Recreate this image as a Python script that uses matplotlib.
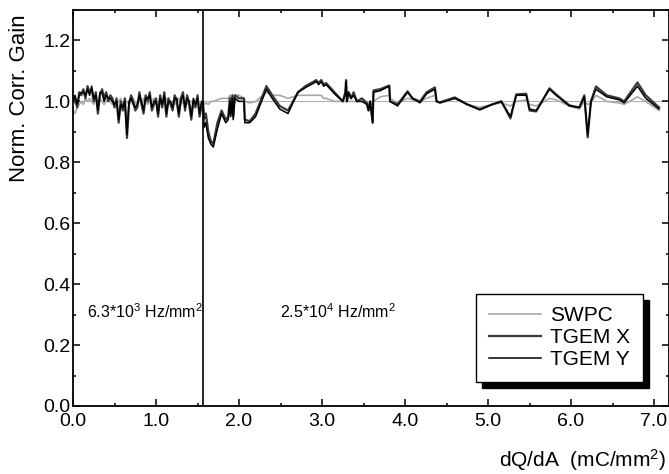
import matplotlib
matplotlib.use("Agg")
import matplotlib.pyplot as plt
from matplotlib.patches import Rectangle

plt.rcParams['font.family'] = ['Liberation Sans', 'DejaVu Sans']
plt.rcParams['mathtext.fontset'] = 'custom'
plt.rcParams['mathtext.rm'] = 'Liberation Sans'
plt.rcParams['mathtext.it'] = 'Liberation Sans'

# ---- data ----
dq = [0.000, 0.025, 0.050, 0.075, 0.100, 0.125, 0.150, 0.175, 0.200, 0.225,
      0.250, 0.275, 0.300, 0.325, 0.350, 0.375, 0.400, 0.425, 0.450, 0.475,
      0.500, 0.525, 0.550, 0.575, 0.600, 0.625, 0.650, 0.675, 0.700, 0.725,
      0.750, 0.775, 0.800, 0.825, 0.850, 0.875, 0.900, 0.925, 0.950, 0.975,
      1.000, 1.025, 1.050, 1.075, 1.100, 1.125, 1.150, 1.175, 1.200, 1.225,
      1.250, 1.275, 1.300, 1.325, 1.350, 1.375, 1.400, 1.425, 1.450, 1.475,
      1.500, 1.525, 1.550,
      1.565, 1.58, 1.60, 1.63, 1.66, 1.69, 1.74, 1.79, 1.84, 1.87,
      1.89, 1.90, 1.92, 1.93, 1.95, 2.00, 2.06, 2.07, 2.13, 2.20,
      2.33, 2.40, 2.49, 2.59, 2.71, 2.80, 2.90, 2.93, 2.96, 2.99,
      3.02, 3.05, 3.15, 3.25, 3.28, 3.29, 3.30, 3.32, 3.35, 3.38,
      3.42, 3.48, 3.54, 3.56, 3.58, 3.61, 3.62, 3.70, 3.81, 3.82,
      3.91, 4.03, 4.09, 4.18, 4.26, 4.36, 4.38, 4.42, 4.60, 4.75,
      4.90, 5.05, 5.16, 5.27, 5.34, 5.46, 5.50, 5.58, 5.74, 5.82,
      5.98, 6.10, 6.16, 6.20, 6.24, 6.30, 6.43, 6.58, 6.64, 6.80,
      6.90, 7.06]

tgem_x = [0.99, 1.01, 0.98, 1.03, 1.02, 1.04, 1.01, 1.05, 1.03, 1.04,
          1.00, 1.03, 0.96, 1.02, 1.04, 1.01, 1.03, 1.00, 1.02, 1.01,
          0.98, 1.01, 0.93, 1.00, 0.97, 1.01, 0.88, 0.99, 1.02, 1.00,
          0.97, 0.98, 1.03, 0.99, 0.96, 1.02, 1.00, 1.03, 0.97, 0.99,
          1.01, 0.95, 1.02, 0.98, 1.03, 0.95, 1.01, 0.99, 0.97, 1.02,
          1.00, 0.95, 1.01, 1.03, 0.97, 1.02, 0.99, 0.94, 1.00, 0.98,
          1.02, 0.95, 0.99,
          1.00, 0.944, 0.96, 0.90, 0.87, 0.86, 0.93, 0.97, 0.94, 0.95,
          1.01, 0.96, 1.02, 0.95, 1.02, 1.01, 1.01, 0.94, 0.935, 0.96,
          1.05, 1.02, 0.985, 0.97, 1.03, 1.05, 1.065, 1.07, 1.06, 1.07,
          1.055, 1.06, 1.03, 1.00, 1.03, 1.07, 1.00, 1.03, 1.01, 1.03,
          1.00, 1.01, 0.995, 0.97, 1.00, 0.93, 1.036, 1.04, 1.052, 1.00,
          0.99, 1.033, 1.01, 1.00, 1.03, 1.046, 1.00, 0.997, 1.013, 0.99,
          0.974, 0.99, 1.00, 0.944, 1.023, 1.025, 0.97, 0.967, 1.043, 1.023,
          0.987, 0.98, 1.02, 0.882, 1.00, 1.049, 1.02, 1.01, 1.00, 1.062,
          1.02, 0.98]

tgem_y = [1.00, 1.02, 0.99, 1.02, 1.03, 1.03, 1.02, 1.04, 1.02, 1.05,
          1.01, 1.02, 0.97, 1.03, 1.03, 1.00, 1.02, 1.01, 1.01, 1.00,
          0.99, 1.00, 0.94, 0.99, 0.98, 1.00, 0.89, 1.00, 1.01, 0.99,
          0.98, 0.99, 1.02, 1.00, 0.97, 1.01, 1.01, 1.02, 0.98, 1.00,
          1.00, 0.96, 1.01, 0.99, 1.02, 0.96, 1.00, 1.00, 0.98, 1.01,
          1.01, 0.96, 1.00, 1.02, 0.98, 1.01, 1.00, 0.95, 1.01, 0.99,
          1.01, 0.96, 1.00,
          1.00, 0.915, 0.93, 0.88, 0.86, 0.85, 0.91, 0.96, 0.93, 0.94,
          1.00, 0.95, 1.01, 0.94, 1.01, 1.00, 1.00, 0.93, 0.93, 0.95,
          1.04, 1.01, 0.975, 0.96, 1.03, 1.045, 1.06, 1.065, 1.055, 1.065,
          1.05, 1.055, 1.025, 1.00, 1.02, 1.065, 1.00, 1.03, 1.01, 1.02,
          1.00, 1.00, 0.99, 0.97, 1.00, 0.93, 1.03, 1.035, 1.05, 1.00,
          0.985, 1.03, 1.01, 0.995, 1.025, 1.04, 1.00, 0.995, 1.01, 0.99,
          0.972, 0.99, 1.00, 0.95, 1.02, 1.02, 0.975, 0.97, 1.04, 1.02,
          0.985, 0.98, 1.015, 0.89, 1.00, 1.04, 1.015, 1.005, 0.995, 1.05,
          1.01, 0.975]

swpc = [0.97, 0.96, 0.98, 0.99, 1.00, 0.99, 1.01, 1.00, 1.01, 1.00,
        0.99, 1.01, 1.00, 1.01, 1.00, 0.99, 1.00, 1.01, 1.00, 0.99,
        1.00, 0.99, 1.00, 1.01, 0.99, 1.00, 1.00, 0.99, 1.00, 1.01,
        0.99, 1.00, 1.00, 0.99, 1.01, 1.00, 0.99, 1.00, 1.00, 1.01,
        0.99, 1.00, 1.00, 0.99, 1.00, 1.01, 0.99, 1.00, 1.00, 0.99,
        1.00, 1.01, 0.99, 1.00, 1.00, 0.99, 1.00, 1.00, 0.99, 1.00,
        1.00, 0.99, 1.00,
        1.00, 0.99, 0.995, 0.99, 1.00, 1.00, 1.005, 1.01, 1.01, 1.01,
        1.02, 1.01, 1.02, 1.01, 1.02, 1.02, 1.01, 1.00, 0.995, 1.00,
        1.03, 1.02, 1.02, 1.01, 1.02, 1.02, 1.02, 1.02, 1.02, 1.02,
        1.01, 1.01, 1.00, 1.00, 1.00, 1.00, 1.00, 1.00, 1.00, 1.00,
        1.00, 1.00, 0.995, 0.99, 1.00, 0.99, 1.00, 1.015, 1.02, 1.01,
        0.995, 1.01, 1.005, 1.00, 1.01, 1.02, 1.00, 0.995, 1.01, 0.99,
        0.98, 0.99, 0.995, 0.985, 1.00, 1.005, 0.99, 0.985, 1.01, 1.005,
        0.985, 0.975, 1.00, 0.99, 0.995, 1.02, 1.00, 0.995, 0.99, 1.015,
        1.00, 0.97]

boundary_dq = 1.565
rate_labels = ['6.3*10$^{3}$ Hz/mm$^{2}$', '2.5*10$^{4}$ Hz/mm$^{2}$']
xticks = [0.0, 1.0, 2.0, 3.0, 4.0, 5.0, 6.0, 7.0]
yticks = [0.0, 0.2, 0.4, 0.6, 0.8, 1.0, 1.2]

# ---- figure ----
fig = plt.figure(figsize=(6.69, 4.74), dpi=100)
ax = fig.add_axes([73/669, 68/474, 596/669, 396/474])

ax.axhline(1.0, color='#b0b0b0', lw=0.8, zorder=1)
ax.plot(dq, swpc, color='#a8a8a8', lw=1.2, label='SWPC', zorder=2)
ax.plot(dq, tgem_x, color='#3a3a3a', lw=1.6, label='TGEM X', zorder=3)
ax.plot(dq, tgem_y, color='#000000', lw=1.1, label='TGEM Y', zorder=4)
ax.axvline(boundary_dq, color='black', lw=1.2, zorder=5)

ax.set_xticks(xticks)
ax.set_xticklabels(['%.1f' % v for v in xticks])
ax.set_yticks(yticks)
ax.set_yticklabels(['%.1f' % v for v in yticks])
ax.set_xticks([0.5 + v for v in xticks], minor=True)
ax.set_yticks([0.1 + v for v in yticks], minor=True)
ax.set_xlim(0, 7.18)
ax.set_ylim(0, 1.3)
ax.tick_params(which='both', direction='in', top=True, right=True,
               labelsize=14, width=1.1)
ax.tick_params(axis='x', which='major', length=5, pad=5)
ax.tick_params(axis='y', which='major', length=5, pad=2)
ax.tick_params(which='minor', length=2.5)
for s in ax.spines.values():
    s.set_linewidth(1.3)

ax.text(0.17, 0.31, rate_labels[0], fontsize=11.5, va='center', ha='left')
ax.text(2.49, 0.31, rate_labels[1], fontsize=11.5, va='center', ha='left')

ax.set_ylabel('Norm. Corr. Gain', fontsize=16)
ax.yaxis.set_label_coords(-0.072, 0.778)
ax.set_xlabel('dQ/dA  (mC/mm$^{2}$)', fontsize=15, ha='right')
ax.xaxis.set_label_coords(0.995, -0.105)

leg = ax.legend(loc='lower left', bbox_to_anchor=(0.677, 0.061),
                fancybox=False, framealpha=1, edgecolor='black',
                fontsize=15, handlelength=2.5, handletextpad=0.45,
                labelspacing=0.15, borderpad=0.6, borderaxespad=0)
leg.get_frame().set_linewidth(1.0)
leg.set_zorder(10)

fig.canvas.draw()
bb = leg.get_window_extent()
shadow = Rectangle((bb.x0 + 6, bb.y0 - 6), bb.width, bb.height,
                   transform=None, facecolor='black', edgecolor='black',
                   zorder=9)
ax.add_artist(shadow)

fig.savefig('out.png', dpi=100)
